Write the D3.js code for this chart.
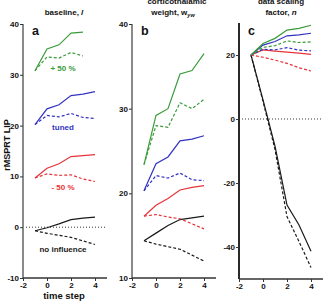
<!DOCTYPE html>
<html><head><meta charset="utf-8">
<script src="https://cdn.jsdelivr.net/npm/d3@7"></script>
<style>
html,body{margin:0;padding:0;background:#fff;}
svg{display:block;font-family:"Liberation Sans",Arial,sans-serif;}
</style></head>
<body>
<script>
// ---- data ----
const steps = [-1, 0, 1, 2, 3, 4];
const xTicks = [-2, 0, 2, 4];

const aGreenSolid  = [30.8, 35.1, 35.9, 38.2, 38.4];
const aGreenDashed = [30.8, 33.5, 33.3, 34.4, 33.7];
const aBlueSolid   = [20.2, 23.3, 24.1, 25.9, 26.2, 26.7];
const aBlueDashed  = [20.2, 22.0, 21.7, 22.4, 21.6, 21.4];
const aRedSolid    = [9.7, 11.6, 12.5, 13.9, 14.1, 14.3];
const aRedDashed   = [9.7, 10.5, 10.2, 10.3, 9.5, 9.0];
const aBlackSolid  = [-0.7, -0.1, 0.65, 1.5, 1.8, 2.0];
const aBlackDashed = [-0.7, -1.2, -1.6, -2.0, -2.7, -3.4];

const bGreenSolid  = [23.4, 29.2, 30.0, 34.1, 34.5, 36.5];
const bGreenDashed = [23.4, 28.0, 27.8, 30.7, 30.0, 31.1];
const bBlueSolid   = [20.3, 23.5, 24.3, 26.2, 26.4, 26.8];
const bBlueDashed  = [20.3, 22.1, 21.8, 22.4, 21.6, 21.5];
const bRedSolid    = [17.3, 18.6, 19.4, 20.4, 20.7, 20.9];
const bRedDashed   = [17.3, 17.5, 17.2, 17.0, 16.4, 15.8];
const bBlackSolid  = [14.4, 15.3, 16.2, 16.9, 17.1, 17.3];
const bBlackDashed = [14.4, 14.0, 13.7, 13.4, 12.7, 12.0];

const cGreenSolid  = [20, 23.6, 25.2, 27.8, 28.3, 29.3];
const cGreenDashed = [20, 22.4, 22.9, 24.4, 23.9, 24.1];
const cBlueSolid   = [20, 23.1, 24.2, 26.0, 26.3, 26.8];
const cBlueDashed  = [20, 21.8, 21.6, 22.3, 21.5, 21.3];
const cRedSolid    = [20, 21.6, 21.2, 20.9, 20.6, 20.2];
const cRedDashed   = [20, 19.3, 18.4, 17.4, 16.0, 15.0];
const cBlackSolid  = [20, 6, -8.5, -26.9, -33.1, -41.3];
const cBlackDashed = [20, 5.5, -9.5, -30.5, -38.3, -46.4];

const aYTicks = [-10, 0, 10, 20, 30, 40];
const bYTicks = [10, 20, 30, 40];
const cYTicks = [-40, -20, 0, 20];

const colors = {green: "#3a9b3a", blue: "#3333c2", red: "#e8333a", black: "#1a1a1a"};

// ---- drawing ----
const W = 323, H = 301;
const svg = d3.select("body").append("svg").attr("width", W).attr("height", H);
const fmt = d => String(d);

const panels = [
  {x0: 23, x1: 107, y0: 24, y1: 278, yDomain: [-10, 40], yTicks: aYTicks, axisColor: "#8a8a8a", zero: true, letter: "a",
   series: [
     [aBlackSolid, "black", false], [aBlackDashed, "black", true],
     [aRedSolid, "red", false], [aRedDashed, "red", true],
     [aBlueSolid, "blue", false], [aBlueDashed, "blue", true],
     [aGreenSolid, "green", false], [aGreenDashed, "green", true]]},
  {x0: 132, x1: 216, y0: 24, y1: 278, yDomain: [10, 40], yTicks: bYTicks, axisColor: "#8a8a8a", zero: false, letter: "b",
   series: [
     [bBlackSolid, "black", false], [bBlackDashed, "black", true],
     [bRedSolid, "red", false], [bRedDashed, "red", true],
     [bBlueSolid, "blue", false], [bBlueDashed, "blue", true],
     [bGreenSolid, "green", false], [bGreenDashed, "green", true]]},
  {x0: 239, x1: 323, y0: 23, y1: 279, yDomain: [-50, 30], yTicks: cYTicks, axisColor: "#2a2a2a", zero: true, letter: "c",
   series: [
     [cBlackSolid, "black", false], [cBlackDashed, "black", true],
     [cRedSolid, "red", false], [cRedDashed, "red", true],
     [cBlueSolid, "blue", false], [cBlueDashed, "blue", true],
     [cGreenSolid, "green", false], [cGreenDashed, "green", true]]}
];

panels.forEach(p => {
  const x = d3.scaleLinear().domain([-2, 5]).range([p.x0, p.x1]);
  const y = d3.scaleLinear().domain(p.yDomain).range([p.y1, p.y0]);
  const g = svg.append("g");

  if (p.zero) {
    g.append("line").attr("x1", x(-2)).attr("x2", x(5)).attr("y1", y(0)).attr("y2", y(0))
      .attr("stroke", "#222").attr("stroke-width", 0.9).attr("stroke-dasharray", "1,2");
  }

  const line = d3.line().x((d, i) => x(steps[i])).y(d => y(d));
  p.series.forEach(([vals, col, dashed]) => {
    g.append("path").datum(vals).attr("d", line)
      .attr("fill", "none").attr("stroke", colors[col]).attr("stroke-width", 1.2)
      .attr("stroke-dasharray", dashed ? "3,2" : null);
  });

  const ya = g.append("g").attr("transform", `translate(${p.x0},0)`)
    .call(d3.axisLeft(y).tickValues(p.yTicks).tickSize(3).tickPadding(1).tickFormat(fmt));
  ya.select(".domain").attr("stroke", p.axisColor).attr("stroke-width", 2)
    .attr("d", `M0,${p.y0}V${p.y1}`);
  ya.selectAll(".tick line").attr("stroke", "#333").attr("stroke-width", 1);
  ya.selectAll(".tick text").attr("font-size", 8).attr("font-weight", "bold").attr("fill", "#111")
    .attr("font-family", "Liberation Sans, Arial, sans-serif");

  const xa = g.append("g").attr("transform", `translate(0,${p.y1})`)
    .call(d3.axisBottom(x).tickValues(xTicks).tickSize(3).tickPadding(1).tickFormat(fmt));
  xa.select(".domain").attr("stroke", "#333").attr("stroke-width", 1.5)
    .attr("d", `M${p.x0},0H${p.x1}`);
  xa.selectAll(".tick line").attr("stroke", "#333").attr("stroke-width", 1);
  xa.selectAll(".tick text").attr("font-size", 8).attr("font-weight", "bold").attr("fill", "#111")
    .attr("font-family", "Liberation Sans, Arial, sans-serif");

  g.append("text").attr("x", p.x0 + 9).attr("y", 35).attr("font-size", 12.5).attr("font-weight", "bold")
    .attr("fill", "#111").text(p.letter);
});

// titles
const tA = svg.append("text").attr("x", 64).attr("y", 15).attr("text-anchor", "middle")
  .attr("font-size", 8).attr("font-weight", "bold").attr("fill", "#111");
tA.append("tspan").text("baseline, ");
tA.append("tspan").attr("font-style", "italic").text("l");

svg.append("text").attr("x", 177).attr("y", 3.5).attr("text-anchor", "middle")
  .attr("font-size", 8).attr("font-weight", "bold").attr("fill", "#111").text("corticothalamic");
const tB = svg.append("text").attr("x", 173).attr("y", 15).attr("text-anchor", "middle")
  .attr("font-size", 8).attr("font-weight", "bold").attr("fill", "#111");
tB.append("tspan").text("weight, w");
tB.append("tspan").attr("font-size", 5.5).attr("font-style", "italic").attr("dy", 1.5).text("yw");

svg.append("text").attr("x", 281).attr("y", 3.5).attr("text-anchor", "middle")
  .attr("font-size", 8).attr("font-weight", "bold").attr("fill", "#111").text("data scaling");
const tC = svg.append("text").attr("x", 281).attr("y", 15).attr("text-anchor", "middle")
  .attr("font-size", 8).attr("font-weight", "bold").attr("fill", "#111");
tC.append("tspan").text("factor, ");
tC.append("tspan").attr("font-style", "italic").text("n");

// axis labels
svg.append("text").attr("transform", "translate(10,145) rotate(-90)").attr("text-anchor", "middle")
  .attr("font-size", 9).attr("font-weight", "bold").attr("fill", "#111").text("rMSPRT LIP");
svg.append("text").attr("x", 64).attr("y", 299).attr("text-anchor", "middle")
  .attr("font-size", 9.5).attr("font-weight", "bold").attr("fill", "#111").text("time step");

// annotations
const ann = [["+ 50 %", "green", 71], ["tuned", "blue", 130], ["- 50 %", "red", 190], ["no influence", "black", 252]];
ann.forEach(([t, c, yy]) => {
  svg.append("text").attr("x", 63).attr("y", yy).attr("text-anchor", "middle")
    .attr("font-size", 8).attr("font-weight", "bold").attr("fill", colors[c]).text(t);
});
</script>
</body></html>
